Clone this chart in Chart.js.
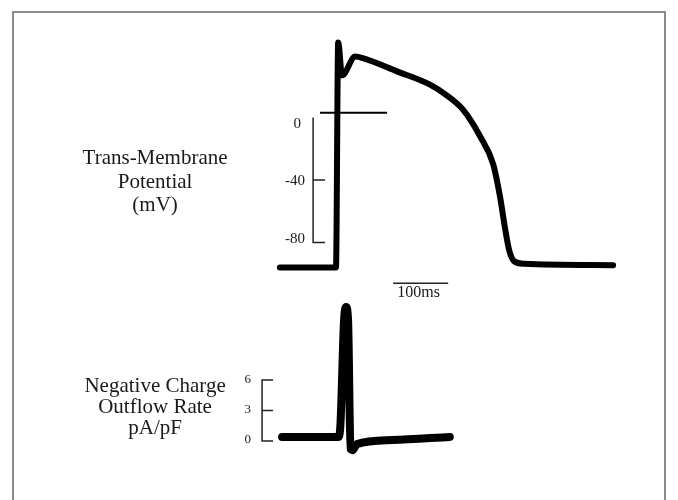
<!DOCTYPE html>
<html>
<head>
<meta charset="utf-8">
<script src="https://cdn.jsdelivr.net/npm/chart.js@4.4.0/dist/chart.umd.min.js"></script>
<style>
  html, body { margin: 0; padding: 0; background: #fff; }
  canvas { display: block; }
</style>
</head>
<body>
<canvas id="chart" width="678" height="500"></canvas>
<script>
// action potential trace (time in ms from upstroke, potential in mV)
const apTime = [-104, -2, 2, 9, 33, 47, 109, 169, 200, 229, 260, 284, 296, 306, 313, 322, 340, 502];
const apVoltage = [-96, -96, 48, 27, 39, 38, 29.5, 21, 14, 5, -12, -30, -50, -72, -85, -92, -93.6, -94.5];

// negative charge outflow rate trace (pA/pF)
const curTime = [-100, 2, 5.5, 12.7, 16.4, 20, 24.5, 28, 36, 100, 205];
const curValue = [0.4, 0.4, 1.1, 11.9, 13.2, 11.9, -0.8, -0.9, -0.3, 0.1, 0.4];

// scale bars and their tick labels
const mvTicks = [0, -40, -80];
const mvTickLabels = ['0', '-40', '-80'];
const curTicks = [6, 3, 0];
const curTickLabels = ['6', '3', '0'];
const zeroLineMv = 3;
const timeBar = [102, 202];
const timeBarLabel = '100ms';

const titleTop = ['Trans-Membrane', 'Potential', '(mV)'];
const titleBottom = ['Negative Charge', 'Outflow Rate', 'pA/pF'];

// where the scale bars sit on the time axis
const mvBarX = -43.6, mvTickX = -21.8;
const curBarX = -136.4, curTickX = -116.4;
const zeroLineFrom = -31, zeroLineTo = 91;
const timeBarMv = -106;

const pts = (xs, ys) => xs.map((x, i) => ({ x: x, y: ys[i] }));

const serif = '"Liberation Serif", "Times New Roman", serif';

const mvBar = [
  { x: mvBarX, y: mvTicks[0] }, { x: mvBarX, y: mvTicks[2] }, { x: mvTickX, y: mvTicks[2] },
  { x: mvTickX, y: null },
  { x: mvBarX, y: mvTicks[1] }, { x: mvTickX, y: mvTicks[1] }
];
const curBar = [
  { x: curTickX, y: curTicks[0] }, { x: curBarX, y: curTicks[0] }, { x: curBarX, y: curTicks[2] }, { x: curTickX, y: curTicks[2] },
  { x: curTickX, y: null },
  { x: curBarX, y: curTicks[1] }, { x: curTickX, y: curTicks[1] }
];

const lineStyle = (extra) => Object.assign({
  borderColor: '#000',
  backgroundColor: '#000',
  pointRadius: 0,
  fill: false,
  tension: 0,
  spanGaps: false,
  borderCapStyle: 'butt'
}, extra);

//draw the labels and the frame
const labelsPlugin = {
  id: 'labels',
  beforeDraw(chart) {
    const ctx = chart.ctx;
    ctx.save();
    ctx.strokeStyle = '#8c8c8c';
    ctx.lineWidth = 2;
    ctx.strokeRect(13, 12, 652, 600);
    ctx.restore();
  },
  afterDraw(chart) {
    const ctx = chart.ctx;
    const x = chart.scales.x, yAP = chart.scales.yAP, yCur = chart.scales.yCur;
    ctx.save();
    ctx.fillStyle = '#1a1a1a';

    // titles
    ctx.font = '21px ' + serif;
    ctx.textAlign = 'center';
    ctx.textBaseline = 'alphabetic';
    const titleX = x.getPixelForValue(-331);
    let ty = yAP.getPixelForValue(-29.8);
    titleTop.forEach((t, i) => ctx.fillText(t, titleX, ty + i * 23.5));
    ty = yCur.getPixelForValue(4.8);
    titleBottom.forEach((t, i) => ctx.fillText(t, titleX, ty + i * 21));

    // mV tick labels
    ctx.font = '15px ' + serif;
    ctx.textAlign = 'right';
    ctx.textBaseline = 'middle';
    mvTicks.forEach((v, i) => {
      const dx = i === 0 ? 4 : 0;
      ctx.fillText(mvTickLabels[i], x.getPixelForValue(mvBarX) - 8 - dx, yAP.getPixelForValue(v) + (i === 0 ? 7 : i === 2 ? -3 : 1));
    });

    // current tick labels
    ctx.font = '13px ' + serif;
    curTicks.forEach((v, i) => {
      ctx.fillText(curTickLabels[i], x.getPixelForValue(curBarX) - 11, yCur.getPixelForValue(v) - 1);
    });

    // time bar label
    ctx.font = '16px ' + serif;
    ctx.textAlign = 'center';
    ctx.textBaseline = 'alphabetic';
    ctx.fillText(timeBarLabel, x.getPixelForValue((timeBar[0] + timeBar[1]) / 2) - 2, yAP.getPixelForValue(timeBarMv) + 14);
    ctx.restore();
  }
};

new Chart(document.getElementById('chart'), {
  type: 'line',
  data: {
    datasets: [
      lineStyle({ data: pts(apTime, apVoltage), yAxisID: 'yAP', borderWidth: 6, cubicInterpolationMode: 'monotone', borderJoinStyle: 'round', borderCapStyle: 'round' }),
      lineStyle({ data: pts(curTime, curValue), yAxisID: 'yCur', borderWidth: 8, cubicInterpolationMode: 'monotone', borderJoinStyle: 'round', borderCapStyle: 'round' }),
      lineStyle({ data: [{ x: zeroLineFrom, y: zeroLineMv }, { x: zeroLineTo, y: zeroLineMv }], yAxisID: 'yAP', borderWidth: 2 }),
      lineStyle({ data: mvBar, yAxisID: 'yAP', borderWidth: 1.5, borderColor: '#222' }),
      lineStyle({ data: pts(timeBar, [timeBarMv, timeBarMv]), yAxisID: 'yAP', borderWidth: 1.5, borderColor: '#222' }),
      lineStyle({ data: curBar, yAxisID: 'yCur', borderWidth: 1.5, borderColor: '#222' })
    ]
  },
  options: {
    responsive: false,
    animation: false,
    layout: { padding: 0 },
    plugins: { legend: { display: false }, tooltip: { enabled: false } },
    scales: {
      x: { type: 'linear', display: false, min: -613, max: 620 },
      yAP: { type: 'linear', display: false, min: -244.8, max: 75.2 },
      yCur: { type: 'linear', display: false, min: -5.8, max: 43.4 }
    }
  },
  plugins: [labelsPlugin]
});
</script>
</body>
</html>
